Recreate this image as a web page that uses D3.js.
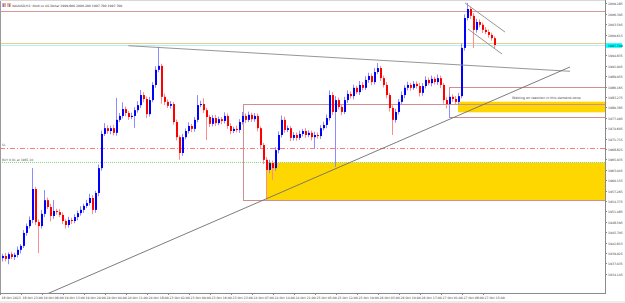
<!DOCTYPE html>
<html>
<head>
<meta charset="utf-8">
<script src="https://cdn.jsdelivr.net/npm/d3@7"></script>
<style>
  body { margin: 0; background: #fff; }
  svg { display: block; font-family: 'DejaVu Sans', sans-serif; }
</style>
</head>
<body>
<svg id="chart" width="625" height="303"></svg>
<script>
// XAUUSD H1 candles, open of each bar = previous close
const firstOpen = 1938.5
const closes = [
  1939.1, 1938.3, 1939.6, 1938.8, 1939.4, 1940.8, 1941.9, 1945.5, 1947.4, 1949.1,
  1957.7, 1948.5, 1947.4, 1950.8, 1954.6, 1952.7, 1950.2, 1951.6, 1951.3, 1950.5,
  1948.8, 1947.7, 1949.1, 1948.8, 1949.9, 1951.0, 1951.9, 1953.0, 1953.8, 1955.2,
  1951.9, 1956.6, 1963.5, 1973.0, 1974.6, 1973.8, 1974.6, 1973.3, 1976.9, 1978.0,
  1979.9, 1978.8, 1977.7, 1978.0, 1979.6, 1981.0, 1983.8, 1982.7, 1978.5, 1982.4,
  1986.6, 1990.8, 1991.9, 1983.3, 1981.9, 1980.8, 1981.3, 1976.3, 1972.1, 1967.7,
  1972.1, 1973.8, 1975.2, 1974.4, 1976.9, 1981.0, 1981.3, 1979.6, 1977.7, 1975.8,
  1977.4, 1976.0, 1977.1, 1976.6, 1978.0, 1975.2, 1973.8, 1974.4, 1974.1, 1976.3,
  1978.0, 1976.9, 1978.3, 1977.1, 1978.0, 1974.6, 1969.9, 1965.8, 1963.0, 1964.9,
  1963.5, 1968.5, 1972.7, 1976.9, 1974.1, 1974.6, 1971.9, 1972.7, 1971.9, 1973.0,
  1973.8, 1972.7, 1973.3, 1972.1, 1972.7, 1972.4, 1974.6, 1975.5, 1977.4, 1983.8,
  1979.1, 1982.4, 1980.5, 1979.1, 1982.4, 1984.1, 1983.5, 1985.8, 1984.6, 1986.6,
  1985.8, 1988.0, 1989.1, 1987.4, 1990.2, 1991.3, 1988.5, 1986.6, 1983.8, 1980.2,
  1976.9, 1979.1, 1981.9, 1983.8, 1985.8, 1986.6, 1985.8, 1986.9, 1986.3, 1984.4,
  1986.3, 1988.0, 1987.1, 1988.3, 1987.4, 1988.5, 1986.6, 1982.4, 1981.3, 1983.3,
  1982.7, 1981.9, 1983.5, 1996.9, 2005.2, 2007.7, 2005.8, 2001.9, 2004.1, 2003.3,
  2001.9, 2001.3, 2000.5, 1999.6, 1997.7
]
// shadow length above / below the body, in dollars
const wickUp = [
  0.6, 0.8, 0.5, 0.7, 0.6, 0.9, 0.5, 0.8, 0.7, 1.0,
  5.8, 0.6, 0.8, 1.1, 2.8, 0.7, 0.9, 3.0, 0.6, 0.8,
  0.7, 0.5, 0.9, 0.6, 0.8, 0.7, 1.0, 0.6, 0.9, 1.2,
  0.8, 0.6, 1.0, 0.9, 1.4, 0.8, 0.7, 0.9, 6.1, 0.8,
  1.9, 0.7, 0.6, 0.9, 0.8, 1.1, 1.4, 0.8, 0.7, 0.9,
  0.8, 1.0, 5.3, 0.6, 0.9, 0.7, 0.8, 0.6, 0.7, 0.5,
  0.9, 0.7, 1.0, 0.6, 0.8, 2.8, 0.9, 1.6, 0.7, 0.6,
  0.8, 0.9, 0.7, 0.6, 1.0, 0.7, 0.8, 0.6, 0.9, 0.8,
  1.1, 0.7, 0.9, 0.6, 0.8, 0.7, 0.5, 0.6, 0.8, 0.9,
  0.7, 0.8, 1.0, 1.2, 0.9, 0.7, 0.6, 0.8, 0.7, 0.9,
  0.6, 0.8, 0.7, 0.6, 0.9, 0.7, 0.8, 0.9, 1.0, 1.3,
  0.8, 1.1, 0.7, 0.6, 0.9, 1.0, 0.7, 0.9, 0.6, 1.1,
  0.8, 1.0, 0.9, 0.7, 1.1, 1.4, 0.6, 0.7, 0.8, 0.6,
  0.7, 0.9, 0.8, 1.0, 0.7, 0.9, 0.6, 0.8, 0.7, 0.9,
  0.8, 1.0, 0.7, 0.9, 0.6, 1.0, 0.7, 0.6, 0.8, 0.9,
  0.7, 0.8, 0.9, 1.2, 1.0, 1.7, 0.6, 0.8, 0.9, 0.7,
  0.6, 0.8, 0.7, 0.6, 0.5
]
const wickDn = [
  0.9, 0.7, 1.5, 0.6, 0.8, 0.7, 1.0, 0.6, 0.8, 0.7,
  0.9, 0.8, 7.5, 0.7, 0.9, 0.6, 1.5, 0.8, 0.7, 0.6,
  0.9, 1.0, 0.7, 0.8, 0.6, 0.9, 0.7, 0.8, 0.6, 0.7,
  1.2, 0.8, 0.9, 0.7, 0.6, 0.8, 0.9, 0.7, 0.8, 0.6,
  0.7, 0.9, 0.8, 0.6, 3.3, 0.7, 0.8, 0.9, 1.1, 0.7,
  0.6, 0.8, 0.7, 1.9, 0.9, 0.6, 0.8, 0.7, 0.9, 1.9,
  0.8, 0.6, 0.7, 0.9, 0.8, 0.7, 0.6, 0.8, 6.4, 0.9,
  0.7, 0.8, 0.6, 0.9, 0.7, 0.8, 0.9, 0.6, 0.7, 0.8,
  0.7, 0.9, 0.6, 0.8, 0.7, 0.9, 1.0, 1.2, 8.3, 0.9,
  3.3, 0.8, 0.9, 0.7, 0.8, 0.6, 0.9, 0.7, 0.8, 0.6,
  0.7, 0.8, 0.6, 0.9, 3.1, 0.7, 0.8, 0.6, 0.9, 0.7,
  0.8, 15.3, 0.7, 0.9, 0.6, 0.8, 0.7, 0.9, 0.6, 0.8,
  0.7, 0.6, 0.8, 0.9, 0.7, 0.6, 0.8, 0.7, 0.9, 1.0,
  4.2, 0.8, 0.7, 0.6, 0.9, 0.7, 0.8, 0.6, 0.7, 1.0,
  0.8, 0.7, 0.6, 0.9, 0.7, 0.8, 0.9, 1.0, 1.2, 3.9,
  0.8, 0.7, 0.9, 0.6, 0.8, 0.7, 0.9, 5.0, 0.8, 0.7,
  0.9, 0.6, 0.8, 0.7, 0.9
]

// right price scale labels
const priceTicks = [
  2009.285, 2006.395, 2003.505, 2000.615, 1997.725, 1994.835, 1991.945, 1989.055,
  1986.165, 1983.275, 1980.385, 1977.495, 1974.605, 1971.715, 1968.825, 1965.935,
  1963.045, 1960.155, 1957.265, 1954.375, 1951.485, 1948.595, 1945.705, 1942.815,
  1939.925, 1937.035, 1934.145
]
// time labels, one every 7 bars
const timeStep = 7
const timeLabels = [
  '18 Oct 2023', '18 Oct 23:00', '19 Oct 06:00', '19 Oct 13:00', '19 Oct 20:00',
  '20 Oct 04:00', '20 Oct 11:00', '20 Oct 18:00', '23 Oct 02:00', '23 Oct 09:00',
  '23 Oct 16:00', '23 Oct 23:00', '24 Oct 07:00', '24 Oct 14:00', '24 Oct 21:00',
  '25 Oct 05:00', '25 Oct 12:00', '25 Oct 19:00', '26 Oct 03:00', '26 Oct 10:00',
  '26 Oct 17:00', '27 Oct 01:00', '27 Oct 08:00', '27 Oct 15:00'
]

const bid = 1997.7
const titleText = 'XAUUSD,H1:  Gold vs US Dollar  1999.600 2000.200 1997.700 1997.700'

// drawn objects (bar index, price)
const hLevels = [
  { p: 2007.2, color: '#d49a9a', from: null },
  { p: 1998.2, color: '#f6c98a', from: null }
]
const slLevel = 1969.1
const buyLevel = 1965.1
const zones = [
  { from: 88, top: 1965.05, bottom: 1954.55 },
  { from: 151.7, top: 1981.95, bottom: 1979.0 }
]
const boxes = [
  { from: 80, top: 1981.2, bottom: 1954.6 },
  { from: 148.7, top: 1986.1, bottom: 1977.6 }
]
const trendLines = [
  { a: [41.8, 1997.5], b: [189, 1990.4], color: '#8a8a8a' },
  { a: [12.33, 1927.7], b: [189, 1991.6], color: '#6e6e6e' },
  { a: [154, 2009.37], b: [167.33, 2001.3], color: '#8a8a8a' },
  { a: [155, 2002.14], b: [166.33, 1995.2], color: '#8a8a8a' }
]
const note = { i: 169.7, p: 1982.6, text: 'Waiting on reaction in this demand zone' }

const W = 625, H = 303
const plotR = 605, plotB = 293

const bars = closes.map((c, i) => {
  const o = i ? closes[i - 1] : firstOpen
  return { i, o, c, h: Math.max(o, c) + wickUp[i], l: Math.min(o, c) - wickDn[i] }
})

const x = d3.scaleLinear().domain([0, closes.length - 1]).range([3, 3 + 3 * (closes.length - 1)])
const y = d3.scaleLinear().domain([2010.2 - plotB / 3.6, 2010.2]).range([plotB, 0])

const svg = d3.select('#chart')
svg.append('rect').attr('width', W).attr('height', H).attr('fill', '#fff')

svg.append('defs').append('clipPath').attr('id', 'plot-clip')
  .append('rect').attr('x', 0).attr('y', 0).attr('width', plotR).attr('height', plotB)

const g = svg.append('g').attr('clip-path', 'url(#plot-clip)')

// yellow demand zones
g.selectAll('rect.zone').data(zones).join('rect')
  .attr('class', 'zone')
  .attr('x', d => Math.round(x(d.from)))
  .attr('y', d => y(d.top))
  .attr('width', d => plotR - Math.round(x(d.from)) + 5)
  .attr('height', d => y(d.bottom) - y(d.top))
  .attr('fill', '#ffd700')

// rectangles
g.selectAll('rect.box').data(boxes).join('rect')
  .attr('class', 'box')
  .attr('x', d => Math.round(x(d.from)) + 0.5)
  .attr('y', d => Math.round(y(d.top)) + 0.5)
  .attr('width', d => plotR - Math.round(x(d.from)) + 5)
  .attr('height', d => Math.round(y(d.bottom)) - Math.round(y(d.top)))
  .attr('fill', 'none')
  .attr('stroke', '#cf8f8f')
  .attr('stroke-width', 1)

// full width levels
g.selectAll('line.level').data(hLevels).join('line')
  .attr('class', 'level')
  .attr('x1', 0).attr('x2', plotR)
  .attr('y1', d => Math.round(y(d.p)) + 0.5).attr('y2', d => Math.round(y(d.p)) + 0.5)
  .attr('stroke', d => d.color)

g.append('line')
  .attr('x1', 0).attr('x2', plotR)
  .attr('y1', Math.round(y(bid)) + 0.5).attr('y2', Math.round(y(bid)) + 0.5)
  .attr('stroke', '#aef3f3')

g.append('line')
  .attr('x1', 0).attr('x2', plotR)
  .attr('y1', Math.round(y(slLevel)) + 0.5).attr('y2', Math.round(y(slLevel)) + 0.5)
  .attr('stroke', '#ff7a7a')
  .attr('stroke-dasharray', '5,2,1,2')

g.append('line')
  .attr('x1', 0).attr('x2', plotR)
  .attr('y1', Math.round(y(buyLevel)) + 0.5).attr('y2', Math.round(y(buyLevel)) + 0.5)
  .attr('stroke', '#7ddc7d')
  .attr('stroke-dasharray', '1,1')

// candles
const candle = g.append('g').selectAll('g').data(bars).join('g')
candle.append('line')
  .attr('x1', d => Math.round(x(d.i)) - 0.5).attr('x2', d => Math.round(x(d.i)) - 0.5)
  .attr('y1', d => y(d.h)).attr('y2', d => y(d.l))
  .attr('stroke', d => (d.c >= d.o ? '#8c8cff' : '#ff8c8c'))
  .attr('stroke-width', 1)
candle.append('rect')
  .attr('x', d => Math.round(x(d.i)) - 1)
  .attr('width', 2)
  .attr('y', d => y(Math.max(d.o, d.c)))
  .attr('height', d => Math.max(1, Math.abs(y(d.o) - y(d.c))))
  .attr('fill', d => (d.c >= d.o ? '#0000ff' : '#ff0000'))

// trend lines
g.selectAll('line.trend').data(trendLines).join('line')
  .attr('class', 'trend')
  .attr('x1', d => x(d.a[0])).attr('y1', d => y(d.a[1]))
  .attr('x2', d => x(d.b[0])).attr('y2', d => y(d.b[1]))
  .attr('stroke', d => d.color)
  .attr('stroke-width', 0.9)

// labels on the chart
g.append('text')
  .attr('x', x(note.i)).attr('y', y(note.p))
  .attr('font-size', 3.4).attr('fill', '#444')
  .text(note.text)

g.append('text')
  .attr('x', 2).attr('y', y(slLevel) - 1.5)
  .attr('font-size', 3).attr('fill', '#555')
  .text('SL')

g.append('text')
  .attr('x', 2).attr('y', y(buyLevel) - 1.2)
  .attr('font-size', 3).attr('fill', '#555')
  .text('BUY 0.01 at ' + buyLevel.toFixed(2))

// title with the two small icons
svg.append('rect').attr('x', 2).attr('y', 3).attr('width', 4).attr('height', 4).attr('fill', '#e9a6a6')
svg.append('rect').attr('x', 3).attr('y', 4).attr('width', 1).attr('height', 3).attr('fill', '#7a7aff')
svg.append('rect').attr('x', 7).attr('y', 3).attr('width', 4).attr('height', 4).attr('fill', '#f2b88a')
svg.append('rect').attr('x', 9).attr('y', 4).attr('width', 1).attr('height', 3).attr('fill', '#7a7aff')
svg.append('text')
  .attr('x', 12).attr('y', 6.6)
  .attr('font-size', 3.1).attr('fill', '#333')
  .text(titleText)

// frame
svg.append('line').attr('x1', 0.5).attr('x2', 0.5).attr('y1', 0).attr('y2', plotB).attr('stroke', '#9a9a9a')
svg.append('line').attr('x1', 0).attr('x2', plotR).attr('y1', 0.5).attr('y2', 0.5).attr('stroke', '#d8d8d8')

// price axis (right)
const yAxisG = svg.append('g').attr('class', 'y axis')
yAxisG.append('line')
  .attr('x1', plotR + 0.5).attr('x2', plotR + 0.5).attr('y1', 0).attr('y2', plotB + 1)
  .attr('stroke', '#8a8a8a')
const yTick = yAxisG.selectAll('g.tick').data(priceTicks).join('g')
  .attr('class', 'tick')
  .attr('transform', d => `translate(0,${Math.round(y(d)) + 0.5})`)
yTick.append('line').attr('x1', plotR).attr('x2', plotR + 2).attr('stroke', '#8a8a8a')
yTick.append('text')
  .attr('x', plotR + 3).attr('dy', '0.35em')
  .attr('font-size', 3.1).attr('fill', '#444')
  .text(d => d.toFixed(3))

// bid label
const bidY = Math.round(y(bid)) + 0.5
yAxisG.append('rect')
  .attr('x', plotR + 1).attr('y', bidY - 2.3).attr('width', 16).attr('height', 4.6)
  .attr('fill', '#00ffff')
yAxisG.append('text')
  .attr('x', plotR + 3).attr('y', bidY).attr('dy', '0.35em')
  .attr('font-size', 3.1).attr('fill', '#222')
  .text(bid.toFixed(3))

// time axis (bottom)
const xAxisG = svg.append('g').attr('class', 'x axis')
xAxisG.append('line')
  .attr('x1', 0).attr('x2', plotR + 1).attr('y1', plotB + 0.5).attr('y2', plotB + 0.5)
  .attr('stroke', '#8a8a8a')
xAxisG.append('rect')
  .attr('x', 0).attr('y', plotB + 8).attr('width', W).attr('height', H - plotB - 8)
  .attr('fill', '#ececec')
const xTick = xAxisG.selectAll('g.tick').data(timeLabels).join('g')
  .attr('class', 'tick')
  .attr('transform', (d, k) => `translate(${Math.round(x(k * timeStep)) - 2.5},0)`)
xTick.append('line').attr('y1', plotB).attr('y2', plotB + 2).attr('stroke', '#8a8a8a')
xTick.append('text')
  .attr('x', 1).attr('y', plotB + 5.6)
  .attr('font-size', 3.1).attr('fill', '#444')
  .text(d => d)
</script>
</body>
</html>
